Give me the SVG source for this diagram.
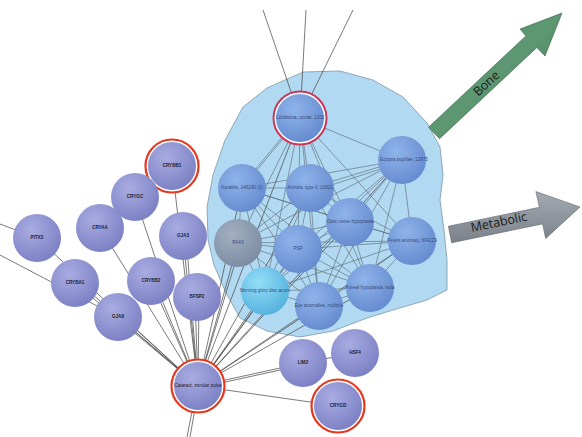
<svg xmlns="http://www.w3.org/2000/svg" width="582" height="437" viewBox="0 0 582 437">
  <style>
    .edge { stroke: #4d4d4d; stroke-width: 0.75; fill: none; }
    .in { stroke: #5a6470; stroke-width: 0.6; fill: none; }
    .gene circle.body { fill: url(#gGene); }
    .pheno circle.body { fill: url(#gPheno); }
    .ring { fill: #ffffff; stroke: #e5391f; stroke-width: 2.2; }
    .ring2 { fill: #ffffff; stroke: #c8385a; stroke-width: 2; }
    .lbl { font-family: "Liberation Sans", Arial, sans-serif; font-size: 4.6px; text-anchor: middle; dominant-baseline: middle; }
    .gene .lbl { fill: #1e1e2e; font-weight: bold; }
    .pheno .lbl { fill: #3b4c7a; }
    .arrowtxt { font-family: "Open Sans", "DejaVu Sans", sans-serif; font-size: 12.5px; fill: #1a1a1a; text-anchor: middle; dominant-baseline: middle; }
  </style>
  <defs>
    <radialGradient id="gGene" cx="0.38" cy="0.32" r="0.7">
      <stop offset="0" stop-color="#a9ace2"/>
      <stop offset="1" stop-color="#7c81c4"/>
    </radialGradient>
    <radialGradient id="gPheno" cx="0.38" cy="0.32" r="0.7">
      <stop offset="0" stop-color="#8fb4ea"/>
      <stop offset="1" stop-color="#668cd0"/>
    </radialGradient>
    <radialGradient id="gPax" cx="0.38" cy="0.32" r="0.7">
      <stop offset="0" stop-color="#a3b0c2"/>
      <stop offset="1" stop-color="#7c8ca3"/>
    </radialGradient>
    <radialGradient id="gGlory" cx="0.38" cy="0.32" r="0.7">
      <stop offset="0" stop-color="#93def8"/>
      <stop offset="1" stop-color="#56b2de"/>
    </radialGradient>
    <linearGradient id="gBone" x1="0" y1="0" x2="1" y2="1">
      <stop offset="0" stop-color="#4b8661"/>
      <stop offset="0.5" stop-color="#5d9873"/>
      <stop offset="1" stop-color="#3d7252"/>
    </linearGradient>
    <linearGradient id="gMeta" x1="0" y1="0" x2="0" y2="1">
      <stop offset="0" stop-color="#a3aab1"/>
      <stop offset="1" stop-color="#7a8189"/>
    </linearGradient>
  </defs>

  <rect width="582" height="437" fill="#ffffff"/>

  <!-- phenotype cluster background -->
  <polygon id="cluster-area" fill="#b1d9f1" stroke="#7d97a8" stroke-width="0.8" stroke-linejoin="round"
    points="303,72 340,71 373,80 403,97 427,123 440,147 443,175 440,200 444,230 447,260 447,290 427,300 393,310 367,318 333,331 300,337 267,331 240,318 226,293 214,265 208,240 207,207 213,175 225,140 243,107 267,88"/>

  <!-- connectors -->
  <g id="connectors">
    <!-- edges leaving the view -->
    <line class="edge" x1="263" y1="10" x2="300" y2="118"/>
    <line class="edge" x1="306" y1="10" x2="300" y2="118"/>
    <line class="edge" x1="353" y1="10" x2="300" y2="118"/>
    <line class="edge" x1="0" y1="224" x2="37" y2="238"/>
    <line class="edge" x1="0" y1="255" x2="118" y2="317"/>
    <line class="edge" x1="197" y1="386" x2="187" y2="437"/>
    <line class="edge" x1="199" y1="386" x2="190" y2="437"/>

    <!-- cataract to genes -->
    <line class="edge" x1="198" y1="386" x2="37" y2="238"/>
    <line class="edge" x1="198" y1="386" x2="75" y2="283"/>
    <line class="edge" x1="198" y1="386" x2="77" y2="281"/>
    <line class="edge" x1="198" y1="386" x2="118" y2="317"/>
    <line class="edge" x1="198" y1="386" x2="120" y2="315"/>
    <line class="edge" x1="198" y1="386" x2="100" y2="228"/>
    <line class="edge" x1="198" y1="386" x2="135" y2="197"/>
    <line class="edge" x1="198" y1="386" x2="172" y2="166"/>
    <line class="edge" x1="198" y1="386" x2="151" y2="281"/>
    <line class="edge" x1="198" y1="386" x2="154" y2="281"/>
    <line class="edge" x1="198" y1="386" x2="183" y2="236"/>
    <line class="edge" x1="198" y1="386" x2="186" y2="236"/>
    <line class="edge" x1="198" y1="386" x2="195" y2="297"/>
    <line class="edge" x1="198" y1="386" x2="199" y2="297"/>
    <line class="edge" x1="198" y1="386" x2="303" y2="363"/>
    <line class="edge" x1="198" y1="388" x2="303" y2="365"/>
    <line class="edge" x1="198" y1="386" x2="338" y2="406"/>
    <line class="edge" x1="303" y1="363" x2="355" y2="353"/>

    <!-- cataract to phenotypes -->
    <line class="edge" x1="198" y1="386" x2="242" y2="188"/>
    <line class="edge" x1="198" y1="386" x2="238" y2="243"/>
    <line class="edge" x1="198" y1="386" x2="241" y2="243"/>
    <line class="edge" x1="198" y1="386" x2="310" y2="188"/>
    <line class="edge" x1="198" y1="386" x2="298" y2="249"/>
    <line class="edge" x1="198" y1="386" x2="265" y2="291"/>
    <line class="edge" x1="198" y1="386" x2="268" y2="291"/>
    <line class="edge" x1="198" y1="386" x2="319" y2="306"/>
    <line class="edge" x1="198" y1="386" x2="370" y2="288"/>
    <line class="edge" x1="198" y1="386" x2="350" y2="222"/>
    <line class="edge" x1="198" y1="386" x2="412" y2="241"/>
    <line class="edge" x1="198" y1="386" x2="300" y2="118"/>
    <line class="edge" x1="198" y1="386" x2="402" y2="160"/>

    <!-- links among phenotypes -->
    <g class="in">
      <line x1="300" y1="118" x2="402" y2="160"/>
      <line x1="300" y1="118" x2="242" y2="188"/>
      <line x1="298" y1="118" x2="240" y2="188"/>
      <line x1="300" y1="118" x2="310" y2="188"/>
      <line x1="300" y1="118" x2="350" y2="222"/>
      <line x1="300" y1="118" x2="412" y2="241"/>
      <line x1="300" y1="118" x2="238" y2="243"/>
      <line x1="300" y1="118" x2="298" y2="249"/>
      <line x1="300" y1="118" x2="265" y2="291"/>
      <line x1="300" y1="118" x2="370" y2="288"/>
      <line x1="300" y1="118" x2="319" y2="306"/>
      <line x1="402" y1="160" x2="242" y2="188"/>
      <line x1="402" y1="160" x2="310" y2="188"/>
      <line x1="402" y1="162" x2="310" y2="192"/>
      <line x1="402" y1="160" x2="350" y2="222"/>
      <line x1="402" y1="160" x2="412" y2="241"/>
      <line x1="402" y1="160" x2="238" y2="243"/>
      <line x1="402" y1="160" x2="298" y2="249"/>
      <line x1="402" y1="160" x2="265" y2="291"/>
      <line x1="402" y1="160" x2="370" y2="288"/>
      <line x1="402" y1="160" x2="319" y2="306"/>
      <line x1="242" y1="188" x2="310" y2="188"/>
      <line x1="242" y1="188" x2="350" y2="222"/>
      <line x1="242" y1="188" x2="412" y2="241"/>
      <line x1="242" y1="188" x2="238" y2="243"/>
      <line x1="242" y1="188" x2="298" y2="249"/>
      <line x1="242" y1="188" x2="265" y2="291"/>
      <line x1="242" y1="188" x2="370" y2="288"/>
      <line x1="242" y1="188" x2="319" y2="306"/>
      <line x1="310" y1="188" x2="350" y2="222"/>
      <line x1="310" y1="188" x2="412" y2="241"/>
      <line x1="310" y1="188" x2="238" y2="243"/>
      <line x1="310" y1="188" x2="298" y2="249"/>
      <line x1="310" y1="188" x2="265" y2="291"/>
      <line x1="310" y1="188" x2="370" y2="288"/>
      <line x1="310" y1="188" x2="319" y2="306"/>
      <line x1="350" y1="222" x2="412" y2="241"/>
      <line x1="350" y1="222" x2="238" y2="243"/>
      <line x1="350" y1="222" x2="298" y2="249"/>
      <line x1="350" y1="222" x2="265" y2="291"/>
      <line x1="350" y1="222" x2="370" y2="288"/>
      <line x1="350" y1="222" x2="319" y2="306"/>
      <line x1="412" y1="241" x2="238" y2="243"/>
      <line x1="412" y1="241" x2="298" y2="249"/>
      <line x1="412" y1="241" x2="265" y2="291"/>
      <line x1="412" y1="241" x2="370" y2="288"/>
      <line x1="412" y1="241" x2="319" y2="306"/>
      <line x1="238" y1="243" x2="298" y2="249"/>
      <line x1="238" y1="243" x2="265" y2="291"/>
      <line x1="238" y1="243" x2="370" y2="288"/>
      <line x1="238" y1="243" x2="319" y2="306"/>
      <line x1="298" y1="249" x2="265" y2="291"/>
      <line x1="298" y1="249" x2="370" y2="288"/>
      <line x1="298" y1="249" x2="319" y2="306"/>
      <line x1="265" y1="291" x2="370" y2="288"/>
      <line x1="265" y1="291" x2="319" y2="306"/>
      <line x1="370" y1="288" x2="319" y2="306"/>
    </g>
  </g>

  <!-- phenotype nodes -->
  <g id="coloboma" class="pheno">
    <circle class="ring2" cx="300" cy="118" r="26.5"/>
    <circle class="body" cx="300" cy="118" r="24"/>
    <text class="lbl" x="300" y="118">Coloboma, ocular, 1202</text>
  </g>
  <g id="ectopia" class="pheno">
    <circle class="body" cx="402" cy="160" r="24"/>
    <text class="lbl" x="404" y="160">Ectopia pupillae, 12975</text>
  </g>
  <g id="keratitis" class="pheno">
    <circle class="body" cx="242" cy="188" r="24"/>
    <text class="lbl" x="242" y="188">Keratitis, 148190 (3)</text>
  </g>
  <g id="aniridia" class="pheno">
    <circle class="body" cx="310" cy="188" r="24"/>
    <text class="lbl" x="310" y="188">Aniridia, type II, 10621</text>
  </g>
  <g id="optic-nerve" class="pheno">
    <circle class="body" cx="350" cy="222" r="24"/>
    <text class="lbl" x="350" y="222">Optic nerve hypoplasia</text>
  </g>
  <g id="peters" class="pheno">
    <circle class="body" cx="412" cy="241" r="24"/>
    <text class="lbl" x="412" y="241">Peters anomaly, 604229</text>
  </g>
  <g id="pax6" class="pheno">
    <circle cx="238" cy="243" r="24" fill="url(#gPax)"/>
    <text class="lbl" x="238" y="243">PAX6</text>
  </g>
  <g id="psp" class="pheno">
    <circle class="body" cx="298" cy="249" r="24"/>
    <text class="lbl" x="298" y="249">PSP</text>
  </g>
  <g id="morning-glory" class="pheno">
    <circle cx="265" cy="291" r="24" fill="url(#gGlory)"/>
    <text class="lbl" x="265" y="291">Morning glory disc anom</text>
  </g>
  <g id="foveal" class="pheno">
    <circle class="body" cx="370" cy="288" r="24"/>
    <text class="lbl" x="370" y="288">Foveal hypoplasia, isola</text>
  </g>
  <g id="eye-anomalies" class="pheno">
    <circle class="body" cx="319" cy="306" r="24"/>
    <text class="lbl" x="319" y="306">Eye anomalies, multiple</text>
  </g>

  <!-- gene nodes -->
  <g id="crybb1" class="gene">
    <circle class="ring" cx="172" cy="166" r="26.5"/>
    <circle class="body" cx="172" cy="166" r="24"/>
    <text class="lbl" x="172" y="166">CRYBB1</text>
  </g>
  <g id="crygc" class="gene">
    <circle class="body" cx="135" cy="197" r="24"/>
    <text class="lbl" x="135" y="197">CRYGC</text>
  </g>
  <g id="cryaa" class="gene">
    <circle class="body" cx="100" cy="228" r="24"/>
    <text class="lbl" x="100" y="228">CRYAA</text>
  </g>
  <g id="gja3" class="gene">
    <circle class="body" cx="183" cy="236" r="24"/>
    <text class="lbl" x="183" y="236">GJA3</text>
  </g>
  <g id="pitx3" class="gene">
    <circle class="body" cx="37" cy="238" r="24"/>
    <text class="lbl" x="37" y="238">PITX3</text>
  </g>
  <g id="cryba1" class="gene">
    <circle class="body" cx="75" cy="283" r="24"/>
    <text class="lbl" x="75" y="283">CRYBA1</text>
  </g>
  <g id="crybb2" class="gene">
    <circle class="body" cx="151" cy="281" r="24"/>
    <text class="lbl" x="151" y="281">CRYBB2</text>
  </g>
  <g id="bfsp2" class="gene">
    <circle class="body" cx="197" cy="297" r="24"/>
    <text class="lbl" x="197" y="297">BFSP2</text>
  </g>
  <g id="gja8" class="gene">
    <circle class="body" cx="118" cy="317" r="24"/>
    <text class="lbl" x="118" y="317">GJA8</text>
  </g>
  <g id="cataract" class="gene">
    <circle class="ring" cx="198" cy="386" r="26.5"/>
    <circle class="body" cx="198" cy="386" r="24"/>
    <text class="lbl" x="198" y="386" style="font-weight:normal">Cataract, zonular pulve</text>
  </g>
  <g id="lim2" class="gene">
    <circle class="body" cx="303" cy="363" r="24"/>
    <text class="lbl" x="303" y="363">LIM2</text>
  </g>
  <g id="hsf4" class="gene">
    <circle class="body" cx="355" cy="353" r="24"/>
    <text class="lbl" x="355" y="353">HSF4</text>
  </g>
  <g id="crygd" class="gene">
    <circle class="ring" cx="338" cy="406" r="26.5"/>
    <circle class="body" cx="338" cy="406" r="24"/>
    <text class="lbl" x="338" y="406">CRYGD</text>
  </g>

  <!-- outgoing category arrows -->
  <g id="bone-arrow">
    <polygon fill="url(#gBone)" stroke="#36644a" stroke-width="0.6" stroke-linejoin="round"
      points="428.5,127.2 525.9,35.9 520,29 562,13 545,56 536.9,47.5 439.5,138.8"/>
    <text class="arrowtxt" x="487" y="84" transform="rotate(-43 487 84)">Bone</text>
  </g>
  <g id="metabolic-arrow">
    <polygon fill="url(#gMeta)" stroke="#5f666d" stroke-width="0.6" stroke-linejoin="round"
      points="448.4,226.2 539.4,207.3 535.9,191.6 580,207 545.7,238.6 542.6,223.9 451.6,242.8"/>
    <text class="arrowtxt" x="499" y="223" transform="rotate(-11.7 499 223)">Metabolic</text>
  </g>
</svg>
